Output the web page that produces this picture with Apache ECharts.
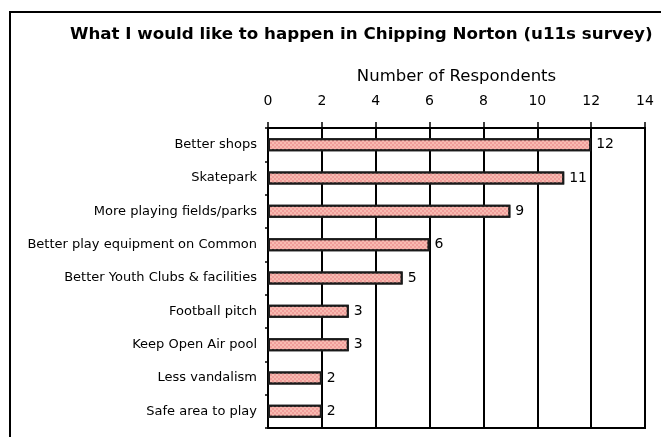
<!DOCTYPE html>
<html>
<head>
<meta charset="utf-8">
<script src="https://cdn.jsdelivr.net/npm/echarts@6/dist/echarts.min.js"></script>
<style>
  html, body { margin: 0; padding: 0; background: #fff; }
  #chart { width: 661px; height: 437px; }
</style>
</head>
<body>
<div id="chart"></div>
<script>
var categories = [
  'Better shops',
  'Skatepark',
  'More playing fields/parks',
  'Better play equipment on Common',
  'Better Youth Clubs & facilities',
  'Football pitch',
  'Keep Open Air pool',
  'Less vandalism',
  'Safe area to play'
];
var respondents = [12, 11, 9, 6, 5, 3, 3, 2, 2];

var chart = echarts.init(document.getElementById('chart'), null, { renderer: 'canvas' });

var option = {
  backgroundColor: '#ffffff',
  animation: false,
  textStyle: { fontFamily: 'DejaVu Sans', color: '#000' },
  graphic: [
    {
      // outer chart frame, runs off the right and bottom edge
      type: 'rect',
      shape: { x: 10, y: 12, width: 700, height: 500 },
      style: { fill: 'none', stroke: '#000', lineWidth: 2 },
      silent: true
    },
    {
      type: 'text',
      left: 70,
      top: 26,
      style: {
        text: 'What I would like to happen in Chipping Norton (u11s survey)',
        fontFamily: 'DejaVu Sans',
        fontWeight: 'bold',
        fontSize: 16.7,
        fill: '#000'
      }
    }
  ],
  grid: {
    left: 268,
    right: 16,
    top: 128,
    bottom: 9,
    show: true,
    borderColor: '#000',
    borderWidth: 2
  },
  xAxis: {
    type: 'value',
    position: 'top',
    min: 0,
    max: 14,
    interval: 2,
    name: 'Number of Respondents',
    nameLocation: 'middle',
    nameGap: 43,
    nameTextStyle: { fontSize: 16.5, color: '#000' },
    axisLine: { show: true, lineStyle: { color: '#000', width: 2 } },
    axisTick: { show: true, length: 6, lineStyle: { color: '#000', width: 1.5 } },
    axisLabel: { fontSize: 14, color: '#000', margin: 20 },
    splitLine: { show: true, lineStyle: { color: '#000', width: 2 } }
  },
  yAxis: {
    type: 'category',
    data: categories,
    inverse: true,
    axisLine: { show: true, lineStyle: { color: '#000', width: 2 } },
    axisTick: { show: true, length: 3, lineStyle: { color: '#000', width: 1.5 } },
    axisLabel: { fontSize: 13, color: '#000', margin: 11 },
    splitLine: { show: false }
  },
  series: [{
    name: 'Respondents',
    type: 'bar',
    data: respondents,
    barWidth: 13,
    itemStyle: {
      color: '#ef9d9a',
      borderColor: '#1a1a1a',
      borderWidth: 2,
      decal: {
        symbol: 'rect',
        symbolSize: 1,
        color: 'rgba(252, 200, 186, 0.7)',
        dashArrayX: [[2, 2], [0, 2, 2, 0]],
        dashArrayY: [2, 0],
        rotation: 0
      }
    },
    label: {
      show: true,
      position: 'right',
      distance: 5,
      fontSize: 14,
      color: '#000'
    }
  }]
};

chart.setOption(option);
</script>
</body>
</html>
